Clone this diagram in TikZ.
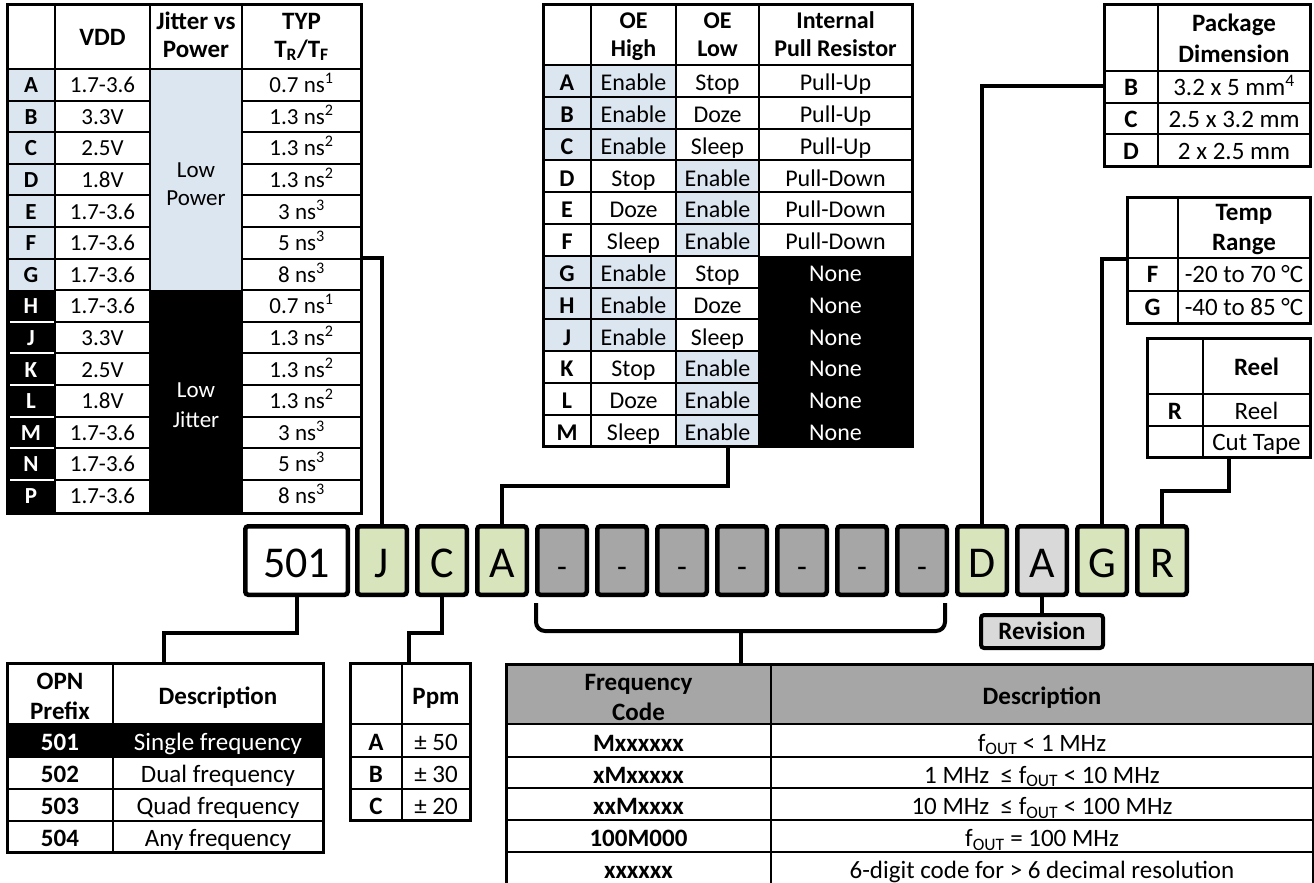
\documentclass[tikz,border=0pt]{standalone}
\usepackage{fontspec}
\setmainfont{Carlito}
\definecolor{lblue}{HTML}{DCE6F1}
\definecolor{lgreen}{HTML}{D8E4BC}
\definecolor{dgray}{HTML}{A6A6A6}
\definecolor{lgray}{HTML}{D9D9D9}
\newcommand\fa{\fontsize{23}{27}\selectfont}
\newcommand\fb{\fontsize{24}{28}\selectfont}
\newcommand\fc{\fontsize{25}{29}\selectfont}
\tikzset{
  La/.style={inner sep=0pt, text height=14.8pt, text depth=0pt, font=\fa},
  Lab/.style={La, font=\fa\bfseries},
  Lb/.style={inner sep=0pt, text height=15.5pt, text depth=0pt, font=\fb},
  Lbb/.style={Lb, font=\fb\bfseries},
  Lc/.style={inner sep=0pt, text height=16.1pt, text depth=0pt, font=\fc},
  Lcb/.style={Lc, font=\fc\bfseries},
  grid/.style={line width=2pt},
  frame/.style={line width=3pt},
  conn/.style={line width=4pt},
  codebox/.style={draw, line width=4.5pt, rounded corners=3pt, minimum width=49.5pt,
    minimum height=68.5pt, inner sep=0pt, text height=33pt, text depth=0pt,
    font=\fontsize{44}{44}\selectfont},
  dashbox/.style={codebox, fill=dgray, font=\fontsize{32}{32}\selectfont},
  greenbox/.style={codebox, fill=lgreen},
}
\begin{document}
\begin{tikzpicture}[x=1pt,y=-1pt]
\useasboundingbox (0,0) rectangle (1314,883);
\fill[white] (0,0) rectangle (1314,883);

%% ===== Table 1: VDD / Jitter / TYP =====
\fill[lblue] (7,69) rectangle (55,290.2);
\fill[lblue] (150,69) rectangle (242,290.2);
\fill[black] (7,290.2) rectangle (55,513);
\fill[black] (150,290.2) rectangle (242,513);
\foreach \k in {1,...,13}{
  \pgfmathsetmacro\yy{69+31.6*\k}
  \draw[grid] (55,\yy) -- (150,\yy);
  \draw[grid] (242,\yy) -- (361,\yy);
}
\foreach \k in {1,...,6}{
  \pgfmathsetmacro\yy{69+31.6*\k}
  \draw[grid] (7,\yy) -- (55,\yy);
}
\foreach \k in {8,...,13}{
  \pgfmathsetmacro\yy{69+31.6*\k}
  \draw[grid,white] (10,\yy) -- (54,\yy);
}
\draw[grid] (7,69) -- (361,69);
\foreach \xx in {55,150,242}{ \draw[grid] (\xx,5) -- (\xx,513); }
\draw[frame] (7,5) rectangle (361,513);
\node[Lcb] (t1h1) at (102.5,37) {VDD};
\node[Lcb] (t1h2a) at (196,21) {Jitter vs};
\node[Lcb] (t1h2b) at (196,49) {Power};
\node[Lcb] (t1h3a) at (301.5,21) {TYP};
\node[Lcb] (t1h3b) at (301.5,49) {T\textsubscript{R}/T\textsubscript{F}};
\node[La] (t1lpa) at (196,170) {Low};
\node[La] (t1lpb) at (196,198) {Power};
\node[La,text=white] (t1lja) at (196,390) {Low};
\node[La,text=white] (t1ljb) at (196,420) {Jitter};
\foreach \k/\L/\V/\T in {0/A/1.7-3.6/{0.7 ns\textsuperscript{1}},1/B/3.3V/{1.3 ns\textsuperscript{2}},
  2/C/2.5V/{1.3 ns\textsuperscript{2}},3/D/1.8V/{1.3 ns\textsuperscript{2}},4/E/1.7-3.6/{3 ns\textsuperscript{3}},
  5/F/1.7-3.6/{5 ns\textsuperscript{3}},6/G/1.7-3.6/{8 ns\textsuperscript{3}}}{
  \pgfmathsetmacro\yy{85.3+31.6*\k}
  \node[Lab] (t1L\L) at (31,\yy) {\L};
  \node[La] (t1V\L) at (102.5,\yy) {\V};
  \node[La] (t1T\L) at (301.5,\yy) {\T};
}
\foreach \k/\L/\V/\T in {7/H/1.7-3.6/{0.7 ns\textsuperscript{1}},8/J/3.3V/{1.3 ns\textsuperscript{2}},
  9/K/2.5V/{1.3 ns\textsuperscript{2}},10/L/1.8V/{1.3 ns\textsuperscript{2}},11/M/1.7-3.6/{3 ns\textsuperscript{3}},
  12/N/1.7-3.6/{5 ns\textsuperscript{3}},13/P/1.7-3.6/{8 ns\textsuperscript{3}}}{
  \pgfmathsetmacro\yy{85.3+31.6*\k}
  \node[Lab,text=white] (t1L\L) at (31,\yy) {\L};
  \node[La] (t1V\L) at (102.5,\yy) {\V};
  \node[La] (t1T\L) at (301.5,\yy) {\T};
}
\coordinate (t1out) at (361,258);

%% ===== Table 2: OE =====
\foreach \k in {0,1,2,6,7,8}{
  \pgfmathsetmacro\yy{65+31.8*\k}
  \fill[lblue] (543,\yy) rectangle (676,\yy+31.8);
}
\foreach \k in {3,4,5,9,10,11}{
  \pgfmathsetmacro\yy{65+31.8*\k}
  \fill[lblue] (676,\yy) rectangle (759,\yy+31.8);
}
\fill[black] (759,255.8) rectangle (912,446.6);
\foreach \k in {1,...,11}{
  \pgfmathsetmacro\yy{65+31.8*\k}
  \draw[grid] (543,\yy) -- (759,\yy);
}
\foreach \k in {1,...,5}{
  \pgfmathsetmacro\yy{65+31.8*\k}
  \draw[grid] (759,\yy) -- (912,\yy);
}
\draw[grid] (543,65) -- (912,65);
\foreach \xx in {591,676,759}{ \draw[grid] (\xx,5) -- (\xx,446.6); }
\draw[frame] (543,5) rectangle (912,446.6);
\node[Lbb] (t2h1a) at (633.5,21) {OE};
\node[Lbb] (t2h1b) at (633.5,49) {High};
\node[Lbb] (t2h2a) at (717.5,21) {OE};
\node[Lbb] (t2h2b) at (717.5,49) {Low};
\node[Lbb] (t2h3a) at (835.5,21) {Internal};
\node[Lbb] (t2h3b) at (835.5,49) {Pull Resistor};
\foreach \k/\L/\H/\W/\R in {0/A/Enable/Stop/Pull-Up,1/B/Enable/Doze/Pull-Up,2/C/Enable/Sleep/Pull-Up,
  3/D/Stop/Enable/Pull-Down,4/E/Doze/Enable/Pull-Down,5/F/Sleep/Enable/Pull-Down}{
  \pgfmathsetmacro\yy{83+31.8*\k}
  \node[Lbb] (t2L\L) at (567,\yy) {\L};
  \node[Lb] (t2H\L) at (633.5,\yy) {\H};
  \node[Lb] (t2W\L) at (717.5,\yy) {\W};
  \node[Lb] (t2R\L) at (835.5,\yy) {\R};
}
\foreach \k/\L/\H/\W in {6/G/Enable/Stop,7/H/Enable/Doze,8/J/Enable/Sleep,
  9/K/Stop/Enable,10/L/Doze/Enable,11/M/Sleep/Enable}{
  \pgfmathsetmacro\yy{83+31.8*\k}
  \node[Lbb] (t2L\L) at (567,\yy) {\L};
  \node[Lb] (t2H\L) at (633.5,\yy) {\H};
  \node[Lb] (t2W\L) at (717.5,\yy) {\W};
  \node[Lb,text=white] (t2R\L) at (835.5,\yy) {None};
}
\coordinate (t2out) at (728,446.6);

%% ===== Table 3: Package =====
\foreach \yy in {71,102.7,134.3}{ \draw[grid] (1104,\yy) -- (1310,\yy); }
\draw[grid] (1158,5) -- (1158,166.7);
\draw[frame] (1104,5) rectangle (1310,166.7);
\node[Lcb] (t3ha) at (1234,23) {Package};
\node[Lcb] (t3hb) at (1234,54) {Dimension};
\node[Lcb] (t3LB) at (1131,87.5) {B};
\node[Lcb] (t3LC) at (1131,119) {C};
\node[Lcb] (t3LD) at (1131,151) {D};
\node[Lc] (t3VB) at (1234,87.5) {3.2 x 5 mm\textsuperscript{4}};
\node[Lc] (t3VC) at (1234,119) {2.5 x 3.2 mm};
\node[Lc] (t3VD) at (1234,151) {2 x 2.5 mm};
\coordinate (t3out) at (1104,86);

%% ===== Table 4: Temp =====
\foreach \yy in {258,290.5}{ \draw[grid] (1127,\yy) -- (1310,\yy); }
\draw[grid] (1178,197) -- (1178,323);
\draw[frame] (1127,197) rectangle (1310,323);
\node[Lcb] (t4ha) at (1244,212) {Temp};
\node[Lcb] (t4hb) at (1244,242) {Range};
\node[Lcb] (t4LF) at (1152.5,274.5) {F};
\node[Lcb] (t4LG) at (1152.5,307) {G};
\node[Lc] (t4VF) at (1244,274.5) {-20 to 70 °C};
\node[Lc] (t4VG) at (1244,307) {-40 to 85 °C};
\coordinate (t4out) at (1127,259);

%% ===== Table 5: Reel =====
\foreach \yy in {394,425.5}{ \draw[grid] (1147,\yy) -- (1310,\yy); }
\draw[grid] (1203,338) -- (1203,457);
\draw[frame] (1147,338) rectangle (1310,457);
\node[Lcb] (t5h) at (1256.5,367) {Reel};
\node[Lcb] (t5LR) at (1175,411) {R};
\node[Lc] (t5VR) at (1256.5,411) {Reel};
\node[Lc] (t5VC) at (1256.5,442) {Cut Tape};
\coordinate (t5out) at (1229,457);

%% ===== Code boxes =====
\node[codebox, fill=white, minimum width=102.5pt] (b501) at (296.5,560.5) {501};
\node[greenbox] (bJ) at (382,560.5) {J};
\node[greenbox] (bC) at (442,560.5) {C};
\node[greenbox] (bA) at (502,560.5) {A};
\foreach \i in {1,...,7}{
  \node[dashbox] (g\i) at (502+60*\i,560.5) {-};
}
\node[greenbox] (bD) at (982,560.5) {D};
\node[codebox, fill=lgray] (bArev) at (1042,560.5) {A};
\node[greenbox] (bG) at (1102,560.5) {G};
\node[greenbox] (bR) at (1162,560.5) {R};

%% Revision
\node[draw, fill=lgray, line width=4pt, rounded corners=3pt, minimum width=122pt,
  minimum height=33pt, inner sep=0pt, text height=16.1pt, text depth=0pt,
  font=\fc\bfseries] (rev) at (1042,631.5) {Revision};

%% ===== Table 6: OPN =====
\fill[black] (7,724) rectangle (323,757);
\foreach \yy in {724,757,789,821}{ \draw[grid] (7,\yy) -- (323,\yy); }
\draw[grid] (113,663) -- (113,852);
\draw[frame] (7,663) rectangle (323,852);
\node[Lcb] (t6h1a) at (60,681) {OPN};
\node[Lcb] (t6h1b) at (60,711) {Prefix};
\node[Lcb] (t6h2) at (218,696) {Description};
\node[Lcb,text=white] (t6a) at (60,742) {501};
\node[Lc,text=white] (t6ad) at (218,742) {Single frequency};
\node[Lcb] (t6b) at (60,774) {502};
\node[Lc] (t6bd) at (218,774) {Dual frequency};
\node[Lcb] (t6c) at (60,806) {503};
\node[Lc] (t6cd) at (218,806) {Quad frequency};
\node[Lcb] (t6d) at (60,838) {504};
\node[Lc] (t6dd) at (218,838) {Any frequency};
\coordinate (t6in) at (164,663);

%% ===== Table 7: Ppm =====
\foreach \yy in {724,757,789}{ \draw[grid] (350,\yy) -- (470,\yy); }
\draw[grid] (402,663) -- (402,820);
\draw[frame] (350,663) rectangle (470,820);
\node[Lcb] (t7h) at (436,696) {Ppm};
\node[Lcb] (t7a) at (376,742) {A};
\node[Lc] (t7ad) at (436,742) {± 50};
\node[Lcb] (t7b) at (376,774) {B};
\node[Lc] (t7bd) at (436,774) {± 30};
\node[Lcb] (t7c) at (376,806) {C};
\node[Lc] (t7cd) at (436,806) {± 20};
\coordinate (t7in) at (409,663);

%% ===== Table 8: Frequency code =====
\fill[dgray] (506,664) rectangle (1313,724);
\foreach \yy in {724,757,788,820,852}{ \draw[grid] (506,\yy) -- (1313,\yy); }
\draw[grid] (771,664) -- (771,890);
\draw[frame] (506,890) -- (506,664) -- (1313,664) -- (1313,890);
\node[Lcb] (t8h1a) at (638.5,682) {Frequency};
\node[Lcb] (t8h1b) at (638.5,712) {Code};
\node[Lcb] (t8h2) at (1042,696) {Description};
\node[Lcb] (t8a) at (638.5,743) {Mxxxxxx};
\node[Lc] (t8ad) at (1042,743) {f\textsubscript{OUT} < 1 MHz};
\node[Lcb] (t8b) at (638.5,775) {xMxxxxx};
\node[Lc] (t8bd) at (1042,775) {1 MHz\ \ ≤ f\textsubscript{OUT} < 10 MHz};
\node[Lcb] (t8c) at (638.5,806.5) {xxMxxxx};
\node[Lc] (t8cd) at (1042,806.5) {10 MHz\ \ ≤ f\textsubscript{OUT} < 100 MHz};
\node[Lcb] (t8d) at (638.5,838.5) {100M000};
\node[Lc] (t8dd) at (1042,838.5) {f\textsubscript{OUT} = 100 MHz};
\node[Lcb] (t8e) at (638.5,870.5) {xxxxxx};
\node[Lc] (t8ed) at (1042,870.5) {6-digit code for > 6 decimal resolution};
\coordinate (t8in) at (741,664);

%% ===== Connectors =====
\draw[conn] (t1out) -| (bJ.north);
\draw[conn] (t2out) -- ++(0,39.5) -| (bA.north);
\draw[conn] (t3out) -| (bD.north);
\draw[conn] (t4out) -| (bG.north);
\draw[conn] (t5out) -- ++(0,34) -| (bR.north);
\draw[conn] (b501.south) -- ++(0,36) -| (t6in);
\draw[conn] (bC.south) -- ++(0,36) -| (t7in);
\draw[conn] (bArev.south) -- (rev.north);
\coordinate (brL) at (536,603);
\coordinate (brR) at (945,603);
\coordinate (brM) at (741,631);
\draw[conn, rounded corners=9pt] (brL) -- (536,631) -- (945,631) -- (brR);
\draw[conn, rounded corners=4pt] (brM) -- (t8in);
\end{tikzpicture}
\end{document}
